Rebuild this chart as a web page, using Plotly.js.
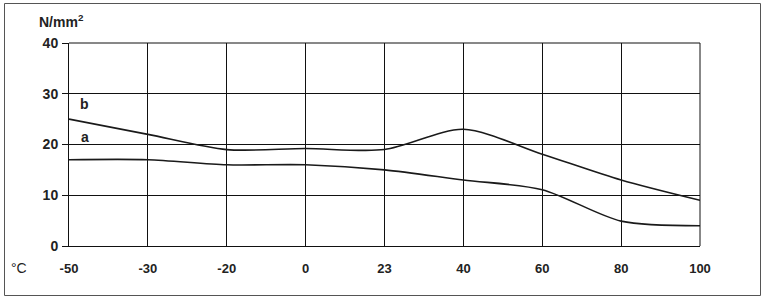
<!DOCTYPE html>
<html>
<head>
<meta charset="utf-8">
<script src="https://cdn.plot.ly/plotly-3.0.1.min.js"></script>
<style>html,body{margin:0;padding:0;background:#fff}#chart{width:765px;height:300px}</style>
</head>
<body>
<div id="chart"></div>
<script>
const temperatures = ["-50", "-30", "-20", "0", "23", "40", "60", "80", "100"];
const seriesA = [17, 17, 16, 16, 15, 13, 11.1, 4.9, 4];
const seriesB = [25, 22, 19, 19.2, 19, 23, 18.1, 13, 9];
const yTicks = [0, 10, 20, 30, 40];

const W = 765, H = 300, L = 69, R = 65, T = 43, B = 54;
const pw = W - L - R, ph = H - T - B;
const px = v => (v - L) / pw;
const py = v => (H - B - v) / ph;

const lineStyle = {color: '#1a1a1a', width: 1.6, shape: 'spline', smoothing: 0.8};
const traces = [
  {x: temperatures, y: seriesA, type: 'scatter', mode: 'lines', line: lineStyle, name: 'a', hoverinfo: 'none'},
  {x: temperatures, y: seriesB, type: 'scatter', mode: 'lines', line: lineStyle, name: 'b', hoverinfo: 'none'}
];

const FAM = 'Liberation Sans, Arial, sans-serif';
const ann = (x, y, text, size, weight) => ({
  xref: 'paper', yref: 'paper', x: px(x), y: py(y), text: text, showarrow: false,
  xanchor: 'center', yanchor: 'middle',
  font: {family: FAM, size: size, color: '#222', weight: weight}
});

const layout = {
  width: W, height: H,
  margin: {l: L, r: R, t: T, b: B, pad: 0},
  paper_bgcolor: '#fff', plot_bgcolor: '#fff',
  showlegend: false,
  font: {family: FAM, size: 13, color: '#222'},
  xaxis: {
    type: 'category', categoryarray: temperatures, range: [0, 8],
    showgrid: true, gridcolor: '#111', gridwidth: 1,
    showline: true, linecolor: '#111', linewidth: 1, mirror: false,
    zeroline: false, ticks: '', ticklabelstandoff: 10,
    tickfont: {family: FAM, size: 13, color: '#222', weight: 'bold'},
    fixedrange: true
  },
  yaxis: {
    range: [0, 40], tickvals: yTicks,
    showgrid: true, gridcolor: '#111', gridwidth: 1,
    showline: true, linecolor: '#111', linewidth: 1,
    zeroline: false, ticks: 'outside', ticklen: 6, tickcolor: '#111', tickwidth: 1,
    ticklabelstandoff: 1,
    tickfont: {family: FAM, size: 14, color: '#222', weight: 'bold'},
    fixedrange: true
  },
  shapes: [
    {type: 'rect', xref: 'paper', yref: 'paper', x0: px(4.5), x1: px(760.5), y0: py(295.5), y1: py(3.5),
     line: {color: '#555', width: 1}, layer: 'below'},
    {type: 'line', xref: 'paper', yref: 'paper', x0: 1, x1: 1, y0: 0, y1: 1, line: {color: '#111', width: 1}},
    {type: 'line', xref: 'paper', yref: 'paper', x0: 0, x1: 1, y0: 1, y1: 1, line: {color: '#111', width: 1}}
  ],
  annotations: [
    ann(61, 21, 'N/mm<sup>2</sup>', 14, 'bold'),
    ann(19, 268, '°C', 14, 'normal'),
    ann(84, 104, 'b', 14, 'bold'),
    ann(85, 137, 'a', 14, 'bold')
  ]
};

Plotly.newPlot('chart', traces, layout, {displayModeBar: false, staticPlot: true});
</script>
</body>
</html>
